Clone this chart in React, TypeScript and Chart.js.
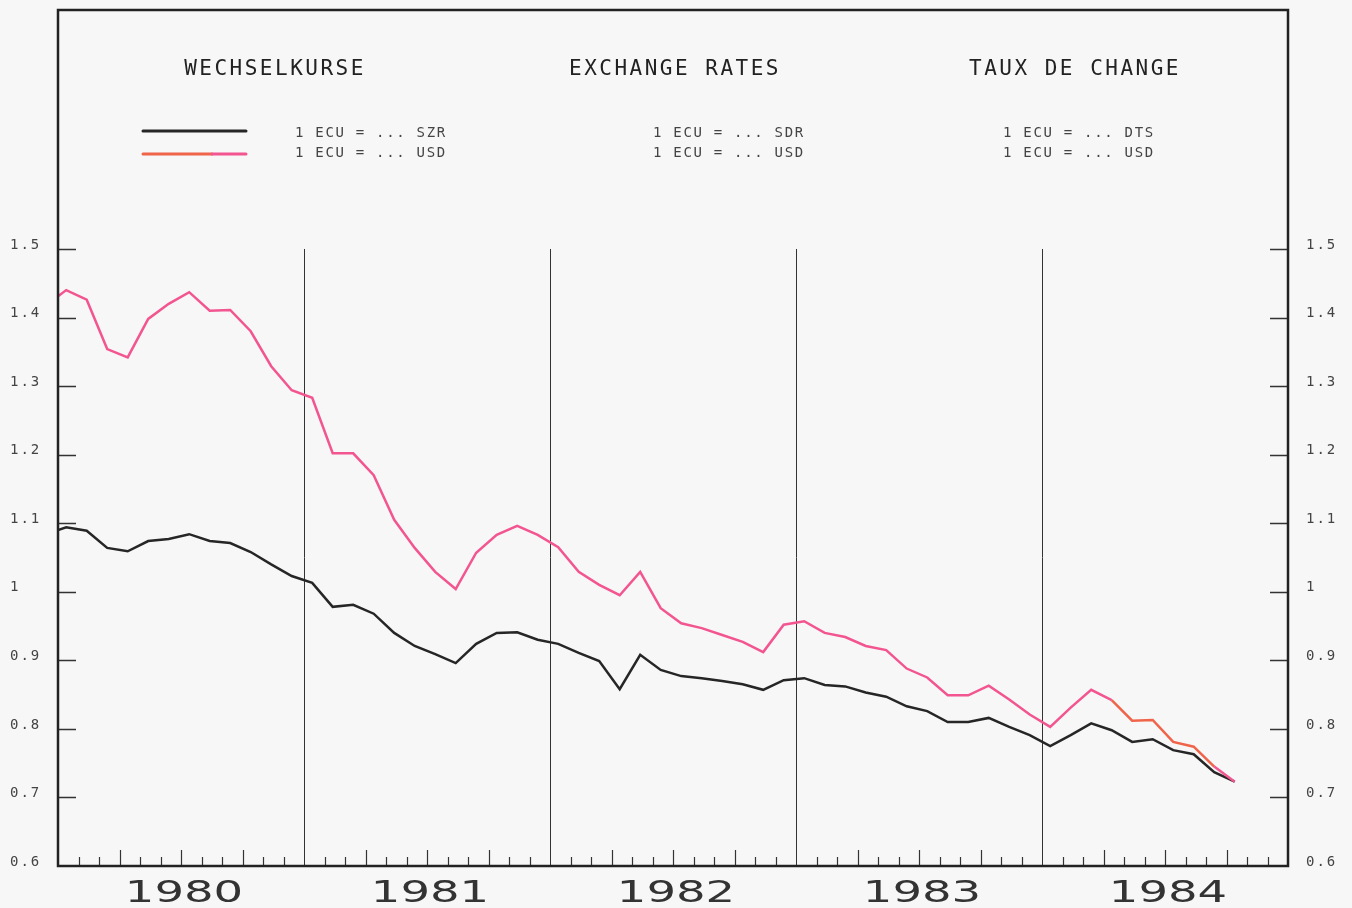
import { useEffect, useRef } from 'react';
import { Chart, registerables } from 'chart.js';

Chart.register(...registerables);

// ---- data ----
const years = ['1980', '1981', '1982', '1983', '1984'];
const monthsPerYear = 12;
const yTickValues = [0.6, 0.7, 0.8, 0.9, 1.0, 1.1, 1.2, 1.3, 1.4, 1.5];
const yTickLabels = ['0.6', '0.7', '0.8', '0.9', '1', '1.1', '1.2', '1.3', '1.4', '1.5'];
const titles = ['WECHSELKURSE', 'EXCHANGE RATES', 'TAUX DE CHANGE'];
const legendSdr = ['1 ECU = ... SZR', '1 ECU = ... SDR', '1 ECU = ... DTS'];
const legendUsd = ['1 ECU = ... USD', '1 ECU = ... USD', '1 ECU = ... USD'];

// first value sits on the left edge (start of Jan 1980), then one value per month
const usdValues = [
  1.431, 1.440, 1.426, 1.354, 1.342, 1.398, 1.420, 1.437, 1.410, 1.411, 1.380, 1.329, 1.294,
  1.283, 1.202, 1.202, 1.170, 1.105, 1.064, 1.029, 1.004, 1.057, 1.083, 1.096, 1.083, 1.065,
  1.029, 1.010, 0.995, 1.029, 0.976, 0.954, 0.947, 0.937, 0.927, 0.912, 0.952, 0.957, 0.940,
  0.934, 0.921, 0.915, 0.888, 0.875, 0.849, 0.849, 0.863, 0.843, 0.821, 0.803, 0.831, 0.857,
  0.842, 0.812, 0.813, 0.781, 0.774, 0.745, 0.723,
];
const sdrValues = [
  1.090, 1.094, 1.089, 1.064, 1.059, 1.074, 1.077, 1.084, 1.074, 1.071, 1.058, 1.040, 1.023,
  1.013, 0.978, 0.981, 0.968, 0.940, 0.921, 0.909, 0.896, 0.924, 0.940, 0.941, 0.930, 0.924,
  0.911, 0.899, 0.858, 0.908, 0.886, 0.877, 0.874, 0.870, 0.865, 0.857, 0.871, 0.874, 0.864,
  0.862, 0.853, 0.847, 0.833, 0.826, 0.810, 0.810, 0.816, 0.803, 0.791, 0.775, 0.791, 0.808,
  0.798, 0.781, 0.785, 0.769, 0.763, 0.737, 0.723,
];
const monthOffset = 0.4; // monthly averages plotted slightly into each month

const xOf = (i: number) => (i === 0 ? 0 : i - 1 + monthOffset);
const toPoints = (vals: number[]) => vals.map((v, i) => ({ x: xOf(i), y: v }));

const BLACK = '#262626';
const PINK = '#f2558f';
const ORANGE = '#f0644a';
const BG = '#f7f7f7';

const decorPlugin = {
  id: 'decor',
  beforeDraw(chart: any) {
    const { ctx, width, height } = chart;
    ctx.save();
    ctx.fillStyle = BG;
    ctx.fillRect(0, 0, width, height);
    ctx.restore();
  },
  beforeDatasetsDraw(chart: any) {
    const { ctx, chartArea, scales } = chart;
    const xs = scales.x;
    const ys = scales.y;
    ctx.save();
    // year separators
    ctx.strokeStyle = '#333';
    ctx.lineWidth = 1;
    const yTop = ys.getPixelForValue(yTickValues[yTickValues.length - 1]);
    for (let y = 1; y < years.length; y++) {
      const px = Math.round(xs.getPixelForValue(y * monthsPerYear)) + 0.5;
      ctx.beginPath();
      ctx.moveTo(px, yTop);
      ctx.lineTo(px, chartArea.bottom);
      ctx.stroke();
    }
    // month ticks
    ctx.lineWidth = 1.2;
    for (let m = 1; m < years.length * monthsPerYear; m++) {
      if (m % monthsPerYear === 0) continue;
      const px = Math.round(xs.getPixelForValue(m)) + 0.5;
      const len = m % 3 === 0 ? 16 : 9;
      ctx.beginPath();
      ctx.moveTo(px, chartArea.bottom);
      ctx.lineTo(px, chartArea.bottom - len);
      ctx.stroke();
    }
    // y ticks (inward, both sides)
    ctx.lineWidth = 1.3;
    yTickValues.forEach((v) => {
      if (v === yTickValues[0]) return;
      const py = Math.round(ys.getPixelForValue(v)) + 0.5;
      ctx.beginPath();
      ctx.moveTo(chartArea.left, py);
      ctx.lineTo(chartArea.left + 18, py);
      ctx.moveTo(chartArea.right - 18, py);
      ctx.lineTo(chartArea.right, py);
      ctx.stroke();
    });
    ctx.restore();
  },
  afterDraw(chart: any) {
    const { ctx, chartArea, scales } = chart;
    const xs = scales.x;
    const ys = scales.y;
    ctx.save();
    // frame
    ctx.strokeStyle = '#222';
    ctx.lineWidth = 2.5;
    ctx.strokeRect(chartArea.left, chartArea.top, chartArea.right - chartArea.left, chartArea.bottom - chartArea.top);

    // y labels
    ctx.fillStyle = '#444';
    ctx.font = '14px "DejaVu Sans Mono"';
    (ctx as any).letterSpacing = '2px';
    ctx.textBaseline = 'middle';
    ctx.textAlign = 'left';
    yTickValues.forEach((v, i) => {
      const py = ys.getPixelForValue(v) - 4;
      ctx.fillText(yTickLabels[i], 10, py);
      ctx.fillText(yTickLabels[i], chartArea.right + 18, py);
    });

    // year labels (wide plotter lettering)
    (ctx as any).letterSpacing = '0px';
    ctx.fillStyle = '#333';
    ctx.font = '31px "DejaVu Sans"';
    ctx.textAlign = 'center';
    ctx.textBaseline = 'alphabetic';
    years.forEach((yr, i) => {
      const cx = xs.getPixelForValue(i * monthsPerYear + monthsPerYear / 2) + 3;
      ctx.save();
      ctx.translate(cx, chartArea.bottom + 36);
      ctx.scale(1.5, 1);
      ctx.fillText(yr, 0, 0);
      ctx.restore();
    });

    // titles
    const titleCenters = [274, 674, 1074];
    ctx.fillStyle = '#222';
    ctx.font = '21px "DejaVu Sans Mono"';
    (ctx as any).letterSpacing = '2.5px';
    ctx.textBaseline = 'middle';
    ctx.textAlign = 'center';
    titles.forEach((t, i) => ctx.fillText(t, titleCenters[i] + 1, 70));

    // legend texts
    const legendStarts = [295, 653, 1003];
    ctx.fillStyle = '#444';
    ctx.font = '14px "DejaVu Sans Mono"';
    (ctx as any).letterSpacing = '1.7px';
    ctx.textAlign = 'left';
    legendSdr.forEach((t, i) => ctx.fillText(t, legendStarts[i], 133));
    legendUsd.forEach((t, i) => ctx.fillText(t, legendStarts[i], 153));

    // legend swatches
    ctx.lineWidth = 3;
    ctx.lineCap = 'round';
    ctx.strokeStyle = BLACK;
    ctx.beginPath();
    ctx.moveTo(143, 131);
    ctx.lineTo(246, 131);
    ctx.stroke();
    ctx.strokeStyle = ORANGE;
    ctx.beginPath();
    ctx.moveTo(143, 154);
    ctx.lineTo(212, 154);
    ctx.stroke();
    ctx.strokeStyle = PINK;
    ctx.beginPath();
    ctx.moveTo(212, 154);
    ctx.lineTo(246, 154);
    ctx.stroke();
    ctx.restore();
  },
};

export default function App() {
  const ref = useRef<HTMLCanvasElement | null>(null);
  useEffect(() => {
    document.body.style.margin = '0';
    const canvas = ref.current;
    if (!canvas) return;
    const chart = new Chart(canvas, {
      type: 'line',
      data: {
        datasets: [
          {
            label: '1 ECU = ... USD',
            data: toPoints(usdValues),
            borderColor: PINK,
            borderWidth: 2.5,
            pointRadius: 0,
            tension: 0,
            segment: {
              borderColor: (c: any) => (c.p0DataIndex >= 52 && c.p0DataIndex <= 56 ? ORANGE : PINK),
            },
          },
          {
            label: '1 ECU = ... SZR',
            data: toPoints(sdrValues),
            borderColor: BLACK,
            borderWidth: 2.5,
            pointRadius: 0,
            tension: 0,
          },
        ],
      },
      options: {
        responsive: false,
        animation: false,
        devicePixelRatio: 1,
        layout: { padding: { left: 58, right: 64, top: 10, bottom: 42 } },
        scales: {
          x: { type: 'linear', min: 0, max: years.length * monthsPerYear, display: false },
          y: { type: 'linear', min: 0.6, max: 1.8486, display: false },
        },
        plugins: { legend: { display: false }, tooltip: { enabled: false } },
      },
      plugins: [decorPlugin],
    });
    return () => chart.destroy();
  }, []);
  return <canvas ref={ref} width={1352} height={908} style={{ display: 'block' }} />;
}
